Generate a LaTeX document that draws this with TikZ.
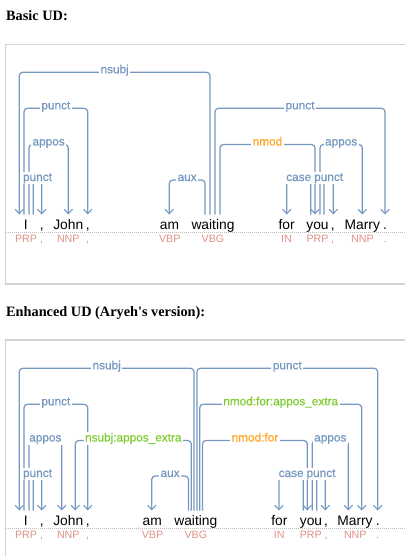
\documentclass[tikz,border=0pt]{standalone}
\usepackage{fontspec}
\setmainfont{Liberation Sans}
\newfontfamily\headfont{Liberation Serif}[Ligatures=TeXOff]
\newfontfamily\labfont{Liberation Sans}[FakeBold=0.6]
\usetikzlibrary{arrows.meta}
\definecolor{arcblue}{RGB}{118,152,192}
\definecolor{arcgreen}{RGB}{128,204,51}
\definecolor{arcorange}{RGB}{255,166,38}
\definecolor{poscol}{RGB}{222,145,135}
\definecolor{boxgray}{RGB}{211,211,211}
\definecolor{dotgray}{RGB}{190,190,190}
\pgfdeclarelayer{fg}
\pgfsetlayers{main,fg}
\newcommand\deparc[7]{%
  \coordinate (#1s) at (#2,#7);
  \coordinate (#1t) at (#3,#7);
  \coordinate (#1m) at ({(#2+#3)/2},#4);
  \draw[dep] (#1s) |- (#1m) -| (#1t);
  \begin{pgfonlayer}{fg}
  \node[arclabel,text=#6] (#1l) at ([yshift=-1pt]#1m) {#5};
  \end{pgfonlayer}}
\begin{document}
\begin{tikzpicture}[x=1pt,y=-1pt,
  dep/.style={draw=arcblue, line width=1.25pt, rounded corners=3.5pt,
    -{Straight Barb[length=4.5pt,width=8.5pt,line width=1.1pt]}},
  arclabel/.style={fill=white, inner xsep=1.5pt, inner ysep=0.6pt,
    text height=8.6pt, text depth=2.6pt, anchor=base,
    font=\labfont\fontsize{11.8}{13}\selectfont},
  tok/.style={anchor=base, inner sep=0pt, font=\fontsize{13.8}{16}\selectfont},
  postag/.style={anchor=base, inner sep=0pt, text=poscol, font=\fontsize{10.7}{12}\selectfont},
  boxline/.style={draw=boxgray, line width=1.2pt},
  dotline/.style={draw=dotgray, line width=1pt, dash pattern=on 1pt off 1pt},
  heading/.style={anchor=base west, inner sep=0pt, font=\headfont\bfseries\fontsize{14.3}{17}\selectfont}]
\path[use as bounding box, clip] (0,0) rectangle (405,556);

% ---------- headings and frames ----------
\node[heading] (h1) at (6,20.7) {Basic UD:};
\node[heading] (h2) at (6,316.7) {Enhanced UD (Aryeh's version):};
\draw[boxline] (5.5,44.7) rectangle (412,284);
\draw[boxline] (5.5,340) rectangle (412,600);
\coordinate (d1a) at (5.5,232.3);
\coordinate (d1b) at (405,232.3);
\coordinate (d2a) at (5.5,528);
\coordinate (d2b) at (405,528);
\draw[dotline] (d1a) -- (d1b);
\draw[dotline] (d2a) -- (d2b);

% ---------- Basic UD tokens ----------
\node[tok] (t1) at (25.7,229) {I};
\node[tok] (t2) at (41.7,229) {,};
\node[tok] (t3) at (68.3,229) {John};
\node[tok] (t4) at (87.7,229) {,};
\node[tok] (t5) at (169.5,229) {am};
\node[tok] (t6) at (213,229) {waiting};
\node[tok] (t7) at (286.7,229) {for};
\node[tok] (t8) at (317.5,229) {you};
\node[tok] (t9) at (332.7,229) {,};
\node[tok] (t10) at (362.3,229) {Marry};
\node[tok] (t11) at (385,229) {.};
\node[postag] (p1) at (26,242) {PRP};
\node[postag] (p2) at (41.7,242) {,};
\node[postag] (p3) at (68.3,242) {NNP};
\node[postag] (p4) at (87.7,242) {,};
\node[postag] (p5) at (169.8,242) {VBP};
\node[postag] (p6) at (213,242) {VBG};
\node[postag] (p7) at (286.5,242) {IN};
\node[postag] (p8) at (317.5,242) {PRP};
\node[postag] (p9) at (332.7,242) {,};
\node[postag] (p10) at (362.5,242) {NNP};
\node[postag] (p11) at (385,242) {.};

% ---------- Basic UD arcs ----------
\def\tb{214.5}
\deparc{ua}{210}{19.3}{72.3}{nsubj}{arcblue}{\tb}
\deparc{ub}{24}{87.7}{108.3}{punct}{arcblue}{\tb}
\deparc{uc}{29}{68.3}{144.5}{appos}{arcblue}{\tb}
\deparc{ud}{33.3}{41.7}{180}{punct}{arcblue}{\tb}
\deparc{ue}{205}{169.3}{180}{aux}{arcblue}{\tb}
\deparc{uf}{215}{385}{108.3}{punct}{arcblue}{\tb}
\deparc{ug}{220}{315}{144.5}{nmod}{arcorange}{\tb}
\deparc{uh}{320}{362.3}{144.5}{appos}{arcblue}{\tb}
\deparc{ui}{310.7}{286.7}{180}{case}{arcblue}{\tb}
\deparc{uj}{324}{333.3}{180}{punct}{arcblue}{\tb}

% ---------- Enhanced UD tokens ----------
\node[tok] (b1) at (25.7,525) {I};
\node[tok] (b2) at (41.7,525) {,};
\node[tok] (b3) at (68.3,525) {John};
\node[tok] (b4) at (87.7,525) {,};
\node[tok] (b5) at (152.2,525) {am};
\node[tok] (b6) at (195.8,525) {waiting};
\node[tok] (b7) at (279.3,525) {for};
\node[tok] (b8) at (311,525) {you};
\node[tok] (b9) at (326,525) {,};
\node[tok] (b10) at (355,525) {Marry};
\node[tok] (b11) at (377.7,525) {.};
\node[postag] (q1) at (26,538) {PRP};
\node[postag] (q2) at (41.7,538) {,};
\node[postag] (q3) at (68.3,538) {NNP};
\node[postag] (q4) at (87.7,538) {,};
\node[postag] (q5) at (152.5,538) {VBP};
\node[postag] (q6) at (195.8,538) {VBG};
\node[postag] (q7) at (279.3,538) {IN};
\node[postag] (q8) at (310.8,538) {PRP};
\node[postag] (q9) at (326,538) {,};
\node[postag] (q10) at (355.3,538) {NNP};
\node[postag] (q11) at (377.7,538) {.};

% ---------- Enhanced UD arcs ----------
\def\bb{510.5}
\deparc{ea}{194.1}{19.3}{368.3}{nsubj}{arcblue}{\bb}
\deparc{eb}{24}{87.7}{404.3}{punct}{arcblue}{\bb}
\deparc{ec}{29}{61.7}{440.5}{appos}{arcblue}{\bb}
\deparc{ed}{191.3}{75.3}{440.5}{nsubj:appos\_extra}{arcgreen}{\bb}
\deparc{ee}{33.3}{41.7}{476}{punct}{arcblue}{\bb}
\deparc{ef}{188.5}{151.7}{476}{aux}{arcblue}{\bb}
\deparc{eg}{196.9}{377.7}{368.3}{punct}{arcblue}{\bb}
\deparc{eh}{199.7}{361.7}{404.3}{nmod:for:appos\_extra}{arcgreen}{\bb}
\deparc{ei}{202.5}{307.3}{440.5}{nmod:for}{arcorange}{\bb}
\deparc{ej}{312.3}{348.3}{440.5}{appos}{arcblue}{\bb}
\deparc{ek}{303.3}{279}{476}{case}{arcblue}{\bb}
\deparc{el}{316.7}{325.3}{476}{punct}{arcblue}{\bb}
\end{tikzpicture}
\end{document}
